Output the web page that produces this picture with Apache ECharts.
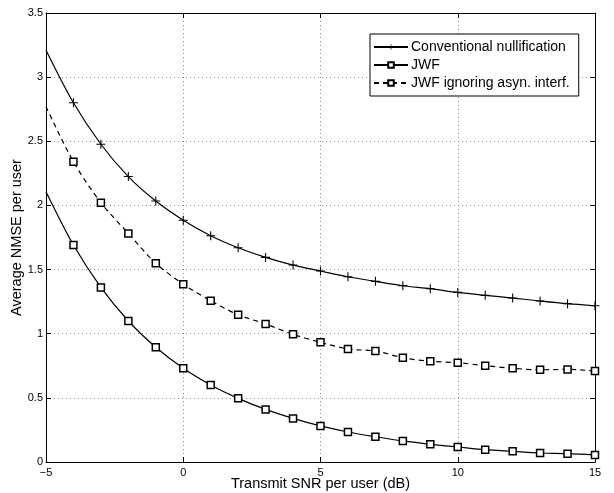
<!DOCTYPE html>
<html><head><meta charset="utf-8">
<script src="https://cdn.jsdelivr.net/npm/echarts@6/dist/echarts.min.js"></script>
<style>html,body{margin:0;padding:0;background:#fff}#c{width:614px;height:493px}</style>
</head><body><div id="c"></div>
<script>
var snr = [-5,-4,-3,-2,-1,0,1,2,3,4,5,6,7,8,9,10,11,12,13,14,15];
var conventional = [3.21,2.80,2.477,2.225,2.034,1.885,1.764,1.670,1.595,1.535,1.489,1.444,1.408,1.374,1.351,1.322,1.299,1.278,1.255,1.234,1.218];
var jwf = [2.107,1.691,1.361,1.099,0.894,0.730,0.600,0.496,0.410,0.340,0.281,0.234,0.197,0.164,0.138,0.117,0.096,0.083,0.070,0.065,0.055];
var jwfIgnoring = [2.77,2.34,2.021,1.782,1.549,1.386,1.257,1.148,1.076,0.995,0.933,0.881,0.865,0.813,0.785,0.774,0.751,0.730,0.719,0.722,0.709];
var names = ['Conventional nullification','JWF','JWF ignoring asyn. interf.'];

var FONT = 'Liberation Sans';
var plusPath = 'path://M4.4,0H5.6V4.4H10V5.6H5.6V10H4.4V5.6H0V4.4H4.4Z';
function pts(arr){
  return arr.map(function(v,i){
    var d = {value:[snr[i], v]};
    if(i===0) d.symbol = 'none';
    return d;
  });
}
var chart = echarts.init(document.getElementById('c'), null, {renderer:'canvas'});
var axisCommon = {
  axisLine:{show:true, onZero:false, lineStyle:{color:'#000', width:1}},
  axisTick:{show:true, inside:true, length:5, lineStyle:{color:'#000'}},
};
chart.setOption({
  animation:false,
  textStyle:{fontFamily:FONT},
  grid:{left:46, right:19, top:13, bottom:31, containLabel:false, outerBoundsMode:'none'},
  legend:{
    orient:'vertical', left:370, top:34, itemWidth:34, itemHeight:7, itemGap:4,
    padding:[6,9,6,3], backgroundColor:'#fff', borderColor:'#000', borderWidth:1,
    textStyle:{fontFamily:FONT, fontSize:14, color:'#000', padding:[0,0,0,-2]},
    data:names
  },
  xAxis:[
    Object.assign({type:'value', min:-5, max:15, interval:5, position:'bottom',
      name:'Transmit SNR per user (dB)', nameLocation:'middle', nameGap:14, nameMoveOverlap:false,
      nameTextStyle:{fontFamily:FONT, fontSize:14.5, color:'#000'},
      axisLabel:{fontFamily:FONT, fontSize:11, color:'#000', margin:5,
        formatter:function(v){return String(v).replace('-','\u2212');}},
      splitLine:{show:true, lineStyle:{color:'#888', type:[1,3], width:1}}}, axisCommon),
    Object.assign({type:'value', min:-5, max:15, interval:5, position:'top',
      axisLabel:{show:false}, splitLine:{show:false}}, axisCommon)
  ],
  yAxis:[
    Object.assign({type:'value', min:0, max:3.5, interval:0.5, position:'left',
      name:'Average NMSE per user', nameLocation:'middle', nameGap:22, nameMoveOverlap:false,
      nameTextStyle:{fontFamily:FONT, fontSize:14.5, color:'#000'},
      axisLabel:{fontFamily:FONT, fontSize:11, color:'#000', margin:3},
      splitLine:{show:true, lineStyle:{color:'#888', type:[1,3], width:1}}}, axisCommon),
    Object.assign({type:'value', min:0, max:3.5, interval:0.5, position:'right',
      axisLabel:{show:false}, splitLine:{show:false}}, axisCommon)
  ],
  series:[
    {name:names[0], type:'line', data:pts(conventional), smooth:0.3,
      symbol:plusPath, symbolSize:9, showAllSymbol:true,
      lineStyle:{color:'#000', width:1.2}, itemStyle:{color:'#000', borderWidth:0}},
    {name:names[1], type:'line', data:pts(jwf), smooth:0.3,
      symbol:'rect', symbolSize:7, showAllSymbol:true,
      lineStyle:{color:'#000', width:1.2}, itemStyle:{color:'#fff', borderColor:'#000', borderWidth:1.5}},
    {name:names[2], type:'line', data:pts(jwfIgnoring), smooth:0.3,
      symbol:'rect', symbolSize:7, showAllSymbol:true,
      lineStyle:{color:'#000', width:1.2, type:[5,4]}, itemStyle:{color:'#fff', borderColor:'#000', borderWidth:1.5}}
  ]
});
</script></body></html>
